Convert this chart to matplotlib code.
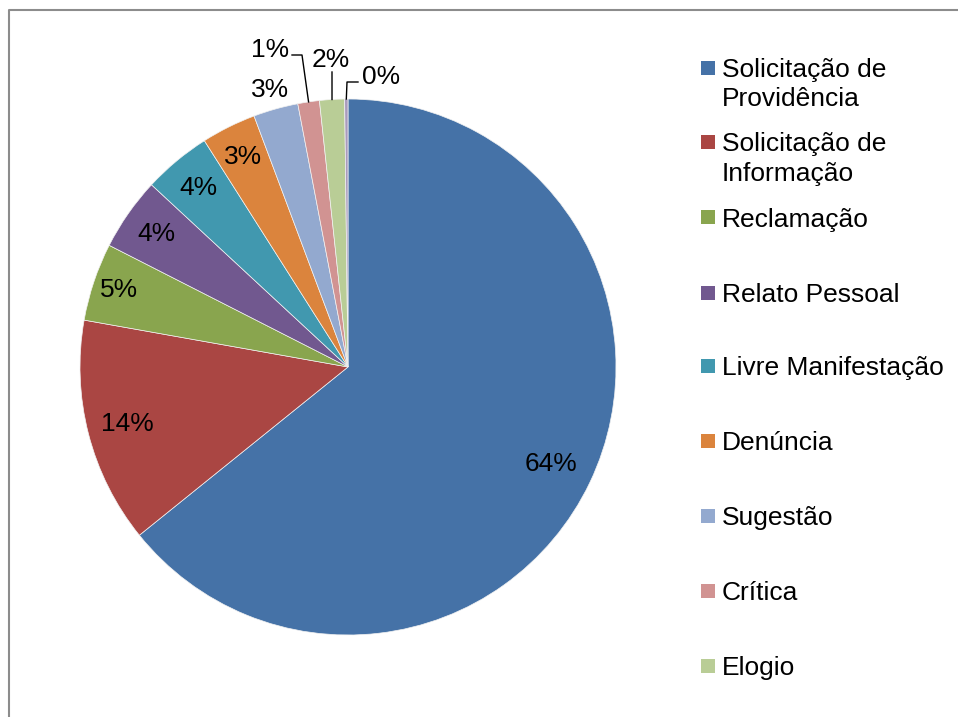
import matplotlib
matplotlib.use("Agg")
import matplotlib.pyplot as plt
import numpy as np
from matplotlib.lines import Line2D
from matplotlib.patches import Rectangle

plt.rcParams['font.family'] = ['Liberation Sans', 'DejaVu Sans']

# ---- data ----
categories = ["Solicitação de\nProvidência", "Solicitação de\nInformação", "Reclamação",
              "Relato Pessoal", "Livre Manifestação", "Denúncia", "Sugestão",
              "Crítica", "Elogio", "Outros"]
values = [64.2, 13.6, 4.7, 4.4, 4.1, 3.3, 2.7, 1.3, 1.5, 0.2]
pct_labels = ["64%", "14%", "5%", "4%", "4%", "3%", "3%", "1%", "2%", "0%"]
legend_count = 9  # entries visible in the legend

# ---- style ----
colors = ["#4572A7", "#AA4643", "#89A54E", "#71588F", "#4198AF",
          "#DB843D", "#93A9CF", "#D19392", "#B9CD96", "#A99BBD"]
FS = 19
W, H = 958, 717

fig = plt.figure(figsize=(W / 100, H / 100), dpi=100)
cx, cy, R = 348, 367, 268
ax = fig.add_axes([(cx - R) / W, (H - cy - R) / H, 2 * R / W, 2 * R / H])
wedges, _ = ax.pie(values, colors=colors, startangle=90, counterclock=False, radius=1,
                   wedgeprops=dict(edgecolor="#F2F2F2", linewidth=0.5))
ax.set_xlim(-1, 1)
ax.set_ylim(-1, 1)
ax.set_aspect("equal")
ax.axis("off")

def px2d(px, py):
    return ((px - cx) / R, (cy - py) / R)

# inside / near labels: radius factor per slice
inside_r = {0: 0.84, 1: 0.85, 2: 0.90, 3: 0.87, 4: 0.87, 5: 0.875, 6: 1.075}
for i, w in enumerate(wedges):
    mid = np.deg2rad((w.theta1 + w.theta2) / 2)
    if i in inside_r:
        r = inside_r[i]
        ax.text(r * np.cos(mid), r * np.sin(mid), pct_labels[i], ha="center", va="center",
                fontsize=FS, color="black", clip_on=False)

# outside labels with leader lines (elbow and text position in pixels)
outside = {
    7: dict(path=[(302, 55), (292, 55)], text=(289, 50), ha="right"),
    8: dict(path=[(332, 72)], text=(331, 60), ha="center"),
    9: dict(path=[(347, 82), (358, 82)], text=(362, 77), ha="left"),
}
for i, spec in outside.items():
    w = wedges[i]
    mid = np.deg2rad((w.theta1 + w.theta2) / 2)
    xs = [np.cos(mid)]
    ys = [np.sin(mid)]
    for p in spec["path"]:
        d = px2d(*p)
        xs.append(d[0]); ys.append(d[1])
    ax.plot(xs, ys, color="black", linewidth=1.0, clip_on=False)
    tx, ty = px2d(*spec["text"])
    ax.text(tx, ty, pct_labels[i], ha=spec["ha"], va="center", fontsize=FS,
            color="black", clip_on=False)

# legend drawn manually (Excel style, square aligned with first line)
legend_y = [68, 142, 217, 293, 366, 441, 516, 591, 666]
line_step = 29
for i in range(legend_count):
    y = legend_y[i]
    fig.patches.append(Rectangle((701 / W, 1 - (y + 7) / H), 14 / W, 14 / H,
                                 transform=fig.transFigure, facecolor=colors[i],
                                 edgecolor="none"))
    for k, line in enumerate(categories[i].split("\n")):
        fig.text(722 / W, 1 - (y + 9.5 + k * line_step) / H, line, ha="left",
                 va="baseline", fontsize=FS, color="black")

# chart area frame (left & top visible)
fig.add_artist(Line2D([8.5 / W, 8.5 / W, 1.0], [0.0, 1 - 9.5 / H, 1 - 9.5 / H],
                      transform=fig.transFigure, color="#8C8C8C", linewidth=1.5))

fig.savefig("out.png", dpi=100)
